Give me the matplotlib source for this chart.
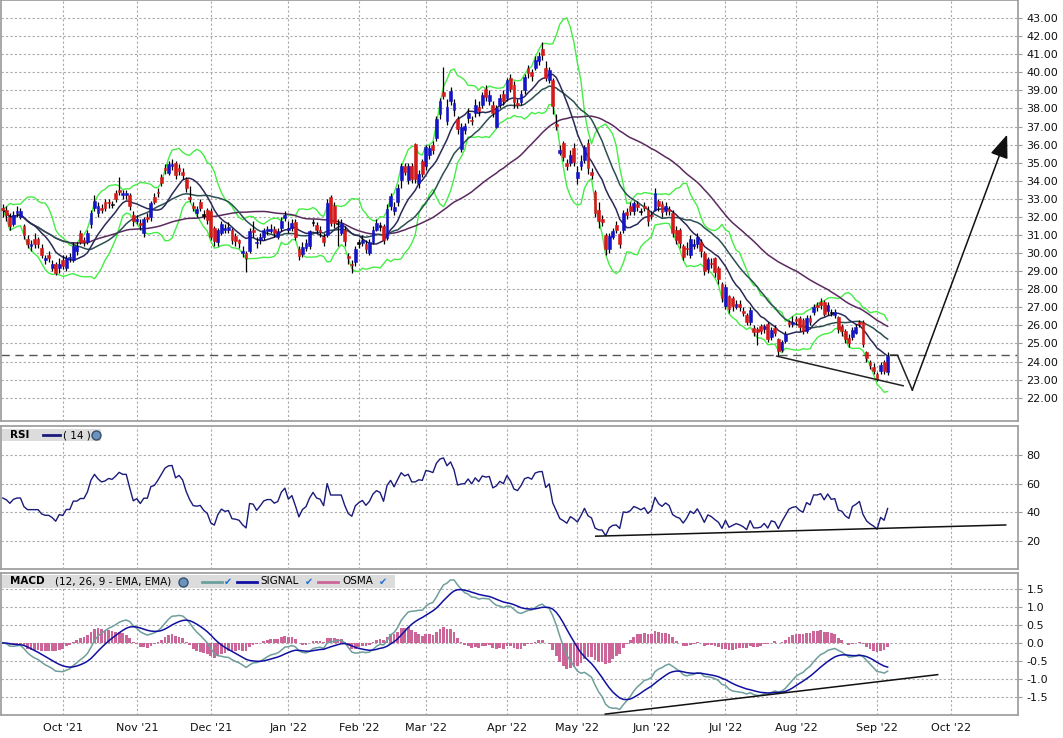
import numpy as np
import pandas as pd
import matplotlib
matplotlib.use("Agg")
import matplotlib.pyplot as plt
from matplotlib.lines import Line2D
from matplotlib.patches import Rectangle

# daily candles, one per trading day from 2021-09-08
opens = [
    32.5, 32.4, 32.0, 31.6, 32.2, 32.0, 31.5, 30.8, 30.4, 30.8,
    30.8, 30.3, 29.6, 29.9, 29.2, 29.4, 29.2, 29.6, 29.2, 29.7,
    29.6, 30.1, 31.1, 30.7, 30.6, 31.6, 32.5, 32.2, 32.5, 32.85,
    32.8, 32.7, 33.3, 33.5, 33.2, 33.2, 33.2, 32.1, 31.8, 31.65,
    31.1, 32.0, 32.0, 33.1, 33.4, 34.2, 34.7, 34.45, 34.8, 35.0,
    34.7, 34.5, 34.1, 33.1, 32.6, 32.2, 32.8, 32.1, 32.4, 32.3,
    31.4, 30.6, 31.1, 31.25, 31.3, 31.3, 30.95, 30.7, 30.0, 30.0,
    30.1, 31.3, 30.55, 30.7, 30.9, 31.2, 31.2, 31.35, 30.9, 31.4,
    31.95, 31.3, 31.4, 31.7, 30.2, 29.95, 30.3, 30.4, 31.7, 31.55,
    31.3, 30.9, 31.0, 33.1, 32.6, 31.65, 31.1, 31.3, 29.85, 29.4,
    29.5, 30.55, 30.55, 30.5, 30.0, 30.6, 31.3, 31.5, 31.5, 30.85,
    32.6, 32.3, 32.8, 34.05, 34.8, 34.05, 34.8, 36.05, 33.9, 35.1,
    34.8, 35.4, 36.0, 36.35, 37.7, 38.9, 37.3, 38.4, 37.9, 37.4,
    35.75, 36.8, 37.45, 37.35, 37.75, 38.1, 38.2, 39.1, 38.4, 38.2,
    37.0, 38.2, 38.8, 38.6, 39.7, 39.3, 38.3, 38.35, 39.0, 40.25,
    40.0, 40.25, 40.6, 41.3, 40.25, 39.6, 39.6, 37.1, 35.55, 36.1,
    35.0, 35.0, 35.8, 34.15, 34.8, 35.15, 36.1, 34.5, 33.4, 32.4,
    31.9, 31.0, 30.2, 30.9, 31.55, 31.05, 31.25, 32.25, 32.6, 32.3,
    32.7, 32.3, 32.6, 32.4, 32.1, 32.4, 32.9, 32.7, 32.3, 32.45,
    32.2, 31.3, 31.3, 30.4, 30.3, 29.9, 30.4, 30.5, 30.6, 30.0,
    29.1, 29.45, 29.7, 29.2, 28.3, 27.05, 27.6, 27.5, 27.0, 27.2,
    26.8, 26.6, 26.2, 25.85, 25.8, 25.95, 25.8, 26.1, 25.35, 25.85,
    25.25, 24.65, 25.15, 26.2, 26.1, 26.35, 26.4, 26.3, 25.7, 26.4,
    26.75, 27.1, 27.3, 27.3, 26.8, 26.7, 26.6, 26.45, 25.95, 25.7,
    25.3, 25.35, 25.6, 26.2, 26.2, 24.5, 24.0, 23.7, 23.3, 23.5,
    24.0, 23.4,
]
closes = [
    32.4, 32.1, 31.5, 32.1, 32.3, 32.3, 31.0, 30.5, 30.5, 30.5,
    30.5, 29.9, 29.7, 29.7, 29.4, 28.9, 29.4, 29.3, 29.75, 29.75,
    30.4, 30.4, 30.6, 30.6, 31.1, 32.2, 32.9, 32.6, 32.4, 32.5,
    32.75, 32.7, 33.0, 33.4, 33.3, 33.3, 32.6, 31.75, 31.9, 31.55,
    31.9, 31.9, 32.75, 32.85, 33.3, 33.9, 34.6, 34.9, 34.95, 34.3,
    34.55, 34.3, 33.6, 33.0, 32.5, 32.45, 32.5, 32.1, 31.85, 30.9,
    30.65, 31.25, 31.6, 31.4, 31.45, 30.7, 30.65, 30.55, 30.1, 29.75,
    31.2, 31.15, 30.6, 30.9, 31.25, 31.35, 31.35, 31.1, 31.2, 31.8,
    32.1, 31.4, 31.65, 30.9, 29.85, 30.35, 30.55, 31.2, 31.7, 31.25,
    31.15, 30.6, 32.75, 31.65, 31.65, 31.65, 31.65, 30.65, 29.7, 29.35,
    30.25, 30.55, 30.75, 30.25, 30.6, 31.3, 31.65, 31.5, 30.7, 32.45,
    33.15, 32.55, 33.6, 34.8, 34.5, 34.8, 34.1, 34.1, 34.4, 34.35,
    35.85, 35.8, 35.7, 37.4, 38.4, 38.7, 38.1, 38.95, 38.3, 36.85,
    37.0, 37.05, 37.75, 37.3, 38.2, 37.85, 38.75, 38.65, 38.75, 37.75,
    38.0, 38.6, 38.4, 39.55, 39.1, 38.35, 38.2, 38.8, 39.75, 39.95,
    39.8, 40.7, 40.9, 40.95, 39.7, 40.15, 38.15, 37.05, 35.7, 35.3,
    34.8, 35.45, 35.05, 34.5, 35.1, 35.85, 34.7, 34.3, 32.2, 31.75,
    31.7, 30.2, 30.95, 31.2, 31.25, 30.5, 32.2, 32.1, 32.3, 32.75,
    32.55, 32.3, 32.5, 31.75, 32.05, 33.35, 32.6, 32.25, 32.6, 32.3,
    31.1, 30.75, 30.55, 29.8, 30.2, 30.8, 30.5, 30.9, 30.1, 29.0,
    29.65, 29.4, 28.95, 28.55, 27.5, 28.15, 26.9, 27.05, 27.2, 27.0,
    26.7, 26.2, 26.85, 25.65, 25.65, 25.7, 25.95, 25.25, 25.75, 25.6,
    24.6, 25.1, 25.55, 26.05, 26.2, 26.25, 25.9, 25.7, 26.4, 26.2,
    27.0, 27.0, 27.1, 26.65, 27.1, 26.7, 26.75, 25.8, 25.7, 25.25,
    25.0, 25.75, 25.9, 26.1, 24.95, 24.2, 23.8, 23.5, 23.05, 23.8,
    23.45, 24.3,
]
highs = [
    32.7, 32.6, 32.2, 32.3, 32.6, 32.5, 31.6, 31.0, 30.7, 31.1,
    30.9, 30.5, 29.9, 30.1, 29.6, 29.5, 29.7, 29.9, 29.9, 30.0,
    30.6, 30.6, 31.3, 30.9, 31.3, 32.4, 33.2, 32.8, 32.7, 33.0,
    33.0, 32.9, 33.5, 34.2, 33.5, 33.5, 33.3, 32.3, 32.1, 31.9,
    32.0, 32.2, 32.9, 33.3, 33.6, 34.4, 34.9, 35.1, 35.2, 35.1,
    34.9, 34.7, 34.2, 33.7, 32.8, 32.6, 33.0, 32.4, 32.5, 32.5,
    31.5, 31.4, 31.8, 31.6, 31.7, 31.4, 31.1, 30.8, 30.4, 30.1,
    31.4, 31.8, 30.9, 31.1, 31.4, 31.5, 31.6, 31.5, 31.4, 32.0,
    32.3, 31.8, 31.9, 31.9, 30.4, 30.6, 30.8, 31.3, 31.9, 31.7,
    31.5, 31.1, 33.0, 33.2, 32.8, 31.9, 31.9, 31.5, 30.0, 29.6,
    30.4, 30.8, 31.0, 30.7, 30.8, 31.5, 31.9, 31.7, 31.6, 32.7,
    33.3, 32.8, 33.8, 35.0, 35.0, 35.0, 35.0, 36.1, 34.6, 35.2,
    36.0, 36.0, 36.2, 37.6, 38.6, 40.3, 38.5, 39.2, 38.5, 37.6,
    37.2, 37.2, 38.0, 37.6, 38.5, 38.4, 38.9, 39.3, 39.0, 38.4,
    38.2, 38.8, 39.0, 39.7, 39.9, 39.5, 38.5, 39.0, 39.9, 40.4,
    40.2, 40.9, 41.1, 41.7, 40.6, 40.3, 39.7, 37.7, 36.0, 36.2,
    35.2, 35.7, 36.1, 34.8, 35.4, 36.0, 36.3, 34.7, 33.5, 32.8,
    32.1, 31.1, 31.1, 31.4, 31.8, 31.2, 32.4, 32.5, 32.8, 32.9,
    32.9, 32.5, 32.8, 32.6, 32.3, 33.6, 33.0, 32.9, 32.8, 32.6,
    32.4, 31.5, 31.4, 30.5, 30.6, 31.0, 30.8, 31.1, 30.8, 30.1,
    29.8, 29.7, 29.8, 29.3, 28.4, 28.3, 27.7, 27.6, 27.4, 27.4,
    27.0, 26.7, 27.0, 26.0, 25.9, 26.1, 26.1, 26.2, 25.9, 26.0,
    25.3, 25.2, 25.7, 26.3, 26.5, 26.5, 26.5, 26.4, 26.6, 26.6,
    27.2, 27.3, 27.5, 27.4, 27.3, 26.9, 26.9, 26.5, 26.1, 25.8,
    25.5, 25.9, 26.1, 26.3, 26.3, 24.6, 24.1, 23.9, 23.4, 24.0,
    24.1, 24.55,
]
lows = [
    32.0, 31.8, 31.3, 31.5, 32.0, 31.9, 30.8, 30.3, 30.1, 30.3,
    30.3, 29.7, 29.4, 29.5, 29.0, 28.8, 28.9, 29.1, 29.0, 29.5,
    29.5, 29.9, 30.5, 30.4, 30.5, 31.4, 32.3, 32.0, 32.2, 32.3,
    32.5, 32.5, 32.8, 33.2, 33.0, 33.0, 32.4, 31.5, 31.6, 31.3,
    30.9, 31.7, 31.8, 32.7, 33.1, 33.7, 34.4, 34.3, 34.6, 34.1,
    34.3, 34.1, 33.4, 32.8, 32.3, 32.0, 32.3, 31.9, 31.6, 30.7,
    30.4, 30.4, 31.0, 31.1, 31.1, 30.5, 30.4, 30.3, 29.8, 28.95,
    30.0, 30.9, 30.3, 30.5, 30.7, 31.0, 31.1, 30.9, 30.8, 31.2,
    31.8, 31.1, 31.2, 30.7, 29.6, 29.8, 30.1, 30.2, 31.5, 31.1,
    30.9, 30.4, 30.9, 31.5, 31.4, 30.4, 31.0, 30.4, 29.4, 28.9,
    29.3, 30.3, 30.4, 30.0, 29.9, 30.5, 31.2, 31.2, 30.5, 30.7,
    32.4, 32.1, 32.6, 33.6, 34.3, 33.8, 33.9, 33.9, 33.6, 34.2,
    34.6, 35.2, 35.5, 36.2, 37.4, 38.5, 37.1, 38.2, 37.6, 36.6,
    35.6, 36.6, 37.2, 37.1, 37.5, 37.6, 38.0, 38.4, 38.2, 37.5,
    36.9, 38.0, 38.2, 38.4, 38.9, 38.0, 38.0, 38.2, 38.8, 39.7,
    39.5, 40.1, 40.4, 40.7, 39.5, 39.4, 37.7, 36.8, 35.4, 35.1,
    34.6, 34.8, 34.8, 33.8, 34.6, 35.0, 34.4, 34.1, 32.0, 31.4,
    31.5, 29.9, 30.0, 30.8, 31.1, 30.3, 31.1, 31.9, 32.1, 32.1,
    32.3, 32.1, 32.3, 31.5, 31.9, 32.3, 32.3, 32.0, 32.1, 32.1,
    30.9, 30.5, 30.3, 29.6, 29.9, 29.7, 30.2, 30.3, 29.8, 28.8,
    28.9, 29.2, 28.7, 28.3, 27.3, 26.9, 26.7, 26.8, 26.9, 26.8,
    26.5, 26.0, 26.0, 25.4, 24.9, 25.5, 25.6, 25.1, 25.2, 25.4,
    24.3, 24.5, 25.0, 25.9, 25.9, 26.0, 25.7, 25.5, 25.6, 26.0,
    26.6, 26.8, 26.9, 26.5, 26.6, 26.5, 26.4, 25.6, 25.4, 25.0,
    24.8, 25.2, 25.5, 25.9, 24.8, 24.0, 23.6, 23.3, 22.9, 23.3,
    23.3, 23.25,
]

holidays = ['2021-11-25', '2021-12-24', '2022-01-17', '2022-02-21', '2022-04-15',
            '2022-05-30', '2022-06-20', '2022-07-04', '2022-09-05']
months = [(2021, 10), (2021, 11), (2021, 12), (2022, 1), (2022, 2), (2022, 3), (2022, 4),
          (2022, 5), (2022, 6), (2022, 7), (2022, 8), (2022, 9), (2022, 10)]

# drawn annotations (trading-day index, value)
resistance = 24.35
support_x, support_y = [219.5, 255.4], [24.3, 22.66]
proj_x, proj_y = [251.8, 253.8, 258.0], [24.35, 24.35, 22.42]
target_x, target_y = 284.9, 36.55
rsi_tl_x, rsi_tl_y = [168.2, 284.5], [23.5, 31.3]
macd_tl_x, macd_tl_y = [170.9, 265.2], [-1.975, -0.88]

n = min(len(opens), len(closes), len(highs), len(lows))
o = np.array(opens[:n])
c = np.array(closes[:n])
h = np.array(highs[:n])
l = np.array(lows[:n])
x = np.arange(n)

# trading calendar -> month grid positions
cal = pd.bdate_range('2021-09-08', '2022-12-30', freq='C', holidays=holidays)
pos = pd.Series(np.arange(len(cal)), index=cal)
month_pos = [int(pos[pos.index >= pd.Timestamp(y, m, 1)].iloc[0]) for y, m in months]
month_lab = [pd.Timestamp(y, m, 1).strftime("%b '%y") for y, m in months]

# indicators
close = pd.Series(c)
sma10 = close.rolling(10, min_periods=1).mean()
std10 = close.rolling(10, min_periods=1).std(ddof=0)
bb_up = sma10 + 2 * std10
bb_lo = sma10 - 2 * std10
sma20 = close.rolling(20, min_periods=1).mean()
sma50 = close.rolling(50, min_periods=1).mean()

# Wilder RSI(14), averages started from the mean absolute daily move
delta = close.diff().fillna(0.0)
seed = delta.abs().mean()
g_avg, l_avg = seed, seed
rsi = []
for d in delta:
    g_avg = (g_avg * 13 + max(d, 0.0)) / 14
    l_avg = (l_avg * 13 + max(-d, 0.0)) / 14
    rsi.append(100 - 100 / (1 + g_avg / l_avg))
rsi = np.array(rsi)

ema12 = close.ewm(span=12, adjust=False).mean()
ema26 = close.ewm(span=26, adjust=False).mean()
macd = ema12 - ema26
signal = macd.ewm(span=9, adjust=False).mean()
osma = macd - signal

# figure
W, H = 1063, 738
fig = plt.figure(figsize=(W / 100, H / 100), dpi=100)
plt.rcParams['font.family'] = ['DejaVu Sans']


def box(top, bottom, right=1017):
    return [0.001, 1 - bottom / H, right / W, (bottom - top) / H]


ax_p = fig.add_axes(box(0, 421))
ax_r = fig.add_axes(box(426, 568.6))
ax_m = fig.add_axes(box(573, 715))

grid_kw = dict(color='#a9a9a9', linestyle=(0, (2, 2)), linewidth=0.8)
for ax in (ax_p, ax_r, ax_m):
    ax.set_xlim(-0.5, 288)
    ax.set_xticks(month_pos)
    ax.set_xticklabels(month_lab)
    ax.tick_params(axis='x', length=0, labelbottom=False)
    ax.yaxis.tick_right()
    ax.tick_params(axis='y', direction='out', length=3, color='#999999',
                   labelsize=8, pad=3, labelcolor='#111111')
    ax.grid(True, **grid_kw)
    ax.set_axisbelow(True)
    for sp in ax.spines.values():
        sp.set_color('#a0a0a0')
        sp.set_linewidth(1.3)

# price panel
ax_p.set_ylim(20.71, 44.0)
ax_p.set_yticks(np.arange(22, 44, 1))
ax_p.set_yticklabels([f'{v:.2f}' for v in np.arange(22, 44, 1)])
ax_p.plot(x, bb_up, color='#44ee44', lw=1.0, zorder=2)
ax_p.plot(x, bb_lo, color='#44ee44', lw=1.0, zorder=2)
ax_p.plot(x, sma50, color='#5a2a5e', lw=1.1, zorder=2)
ax_p.plot(x, sma20, color='#2c4f52', lw=1.1, zorder=2)
ax_p.plot(x, sma10, color='#2a2a58', lw=1.1, zorder=2)

ax_p.vlines(x, l, h, color='black', lw=0.9, zorder=3)
body_lo = np.minimum(o, c)
body_h = np.maximum(np.abs(c - o), 0.07)
doji = np.abs(c - o) < 0.02
up = (c > o) & ~doji
dn = (c < o) & ~doji
bar_kw = dict(width=0.8, linewidth=0.4, zorder=4)
ax_p.bar(x[up], body_h[up], bottom=body_lo[up], color='#1414c8', edgecolor='#1414c8', **bar_kw)
ax_p.bar(x[dn], body_h[dn], bottom=body_lo[dn], color='#d61a1a', edgecolor='#d61a1a', **bar_kw)
ax_p.bar(x[doji], body_h[doji], bottom=body_lo[doji] - 0.035, color='black', edgecolor='black', **bar_kw)

ax_p.axhline(resistance, color='#555555', lw=1.0, linestyle=(0, (6, 4)), zorder=2)
ax_p.plot(support_x, support_y, color='#222222', lw=1.1, zorder=5)
ax_p.plot(proj_x, proj_y, color='#222222', lw=1.1, zorder=5)
ax_p.annotate('', xy=(target_x, target_y), xytext=(proj_x[-1], proj_y[-1]),
              arrowprops=dict(arrowstyle='-|>,head_length=0.9,head_width=0.35', color='#111111',
                              lw=1.1, mutation_scale=16, shrinkA=0, shrinkB=0), zorder=5)

# RSI panel
ax_r.set_ylim(1, 100)
ax_r.set_yticks([20, 40, 60, 80])
ax_r.plot(x, rsi, color='#1a1a7a', lw=1.0, zorder=3)
ax_r.plot(rsi_tl_x, rsi_tl_y, color='#111111', lw=1.1, zorder=4)

# MACD panel
ax_m.set_ylim(-2.0, 1.94)
mt = np.arange(-1.5, 1.51, 0.5)
ax_m.set_yticks(mt)
ax_m.set_yticklabels([f'{v:.1f}'.replace('-0.0', '0.0') for v in mt])
ax_m.bar(x, osma, width=0.78, color='#cc6699', zorder=2)
ax_m.plot(x, macd, color='#6e9f9c', lw=1.1, zorder=3)
ax_m.plot(x, signal, color='#1010a0', lw=1.1, zorder=3)
ax_m.plot(macd_tl_x, macd_tl_y, color='#111111', lw=1.1, zorder=4)
ax_m.tick_params(axis='x', labelbottom=True, labelsize=8, pad=6, labelcolor='#111111')


# panel captions
def fx(px):
    return px / W


def fy(py):
    return 1 - py / H


def caption_box(x0, x1, y0, y1):
    fig.add_artist(Rectangle((fx(x0), fy(y1)), (x1 - x0) / W, (y1 - y0) / H,
                             transform=fig.transFigure, facecolor='#dcdcdc',
                             edgecolor='none', zorder=5))


def swatch(x0, x1, yc, color):
    fig.add_artist(Line2D([fx(x0), fx(x1)], [fy(yc), fy(yc)], color=color, lw=2.0, zorder=6))


def globe(xc, yc):
    fig.add_artist(Line2D([fx(xc)], [fy(yc)], marker='o', markersize=6.5,
                          markerfacecolor='#6b93bd', markeredgecolor='#34506e', zorder=6))


def check(xc, yc):
    fig.text(fx(xc), fy(yc), '\u2714', color='#1f6fd8', fontsize=7, ha='center', va='center', zorder=6)


yc = 435
caption_box(2, 101, 429, 441.5)
fig.text(fx(10), fy(yc), 'RSI', fontsize=7.5, fontweight='bold', va='center', zorder=6)
swatch(43, 60, yc, '#1a1a7a')
fig.text(fx(63), fy(yc), '( 14 )', fontsize=7.5, va='center', zorder=6)
globe(96, yc)

yc = 581.5
caption_box(2, 395, 575, 588)
fig.text(fx(10), fy(yc), 'MACD', fontsize=7.5, fontweight='bold', va='center', zorder=6)
fig.text(fx(55), fy(yc), '(12, 26, 9 - EMA, EMA)', fontsize=7.5, va='center', zorder=6)
globe(183, yc)
swatch(202, 222, yc, '#6e9f9c')
check(228, yc)
swatch(237, 257, yc, '#1010a0')
fig.text(fx(260), fy(yc), 'SIGNAL', fontsize=7.5, va='center', zorder=6)
check(309, yc)
swatch(318, 338, yc, '#cc6699')
fig.text(fx(342), fy(yc), 'OSMA', fontsize=7.5, va='center', zorder=6)
check(383, yc)

fig.savefig('out.png', dpi=100)
